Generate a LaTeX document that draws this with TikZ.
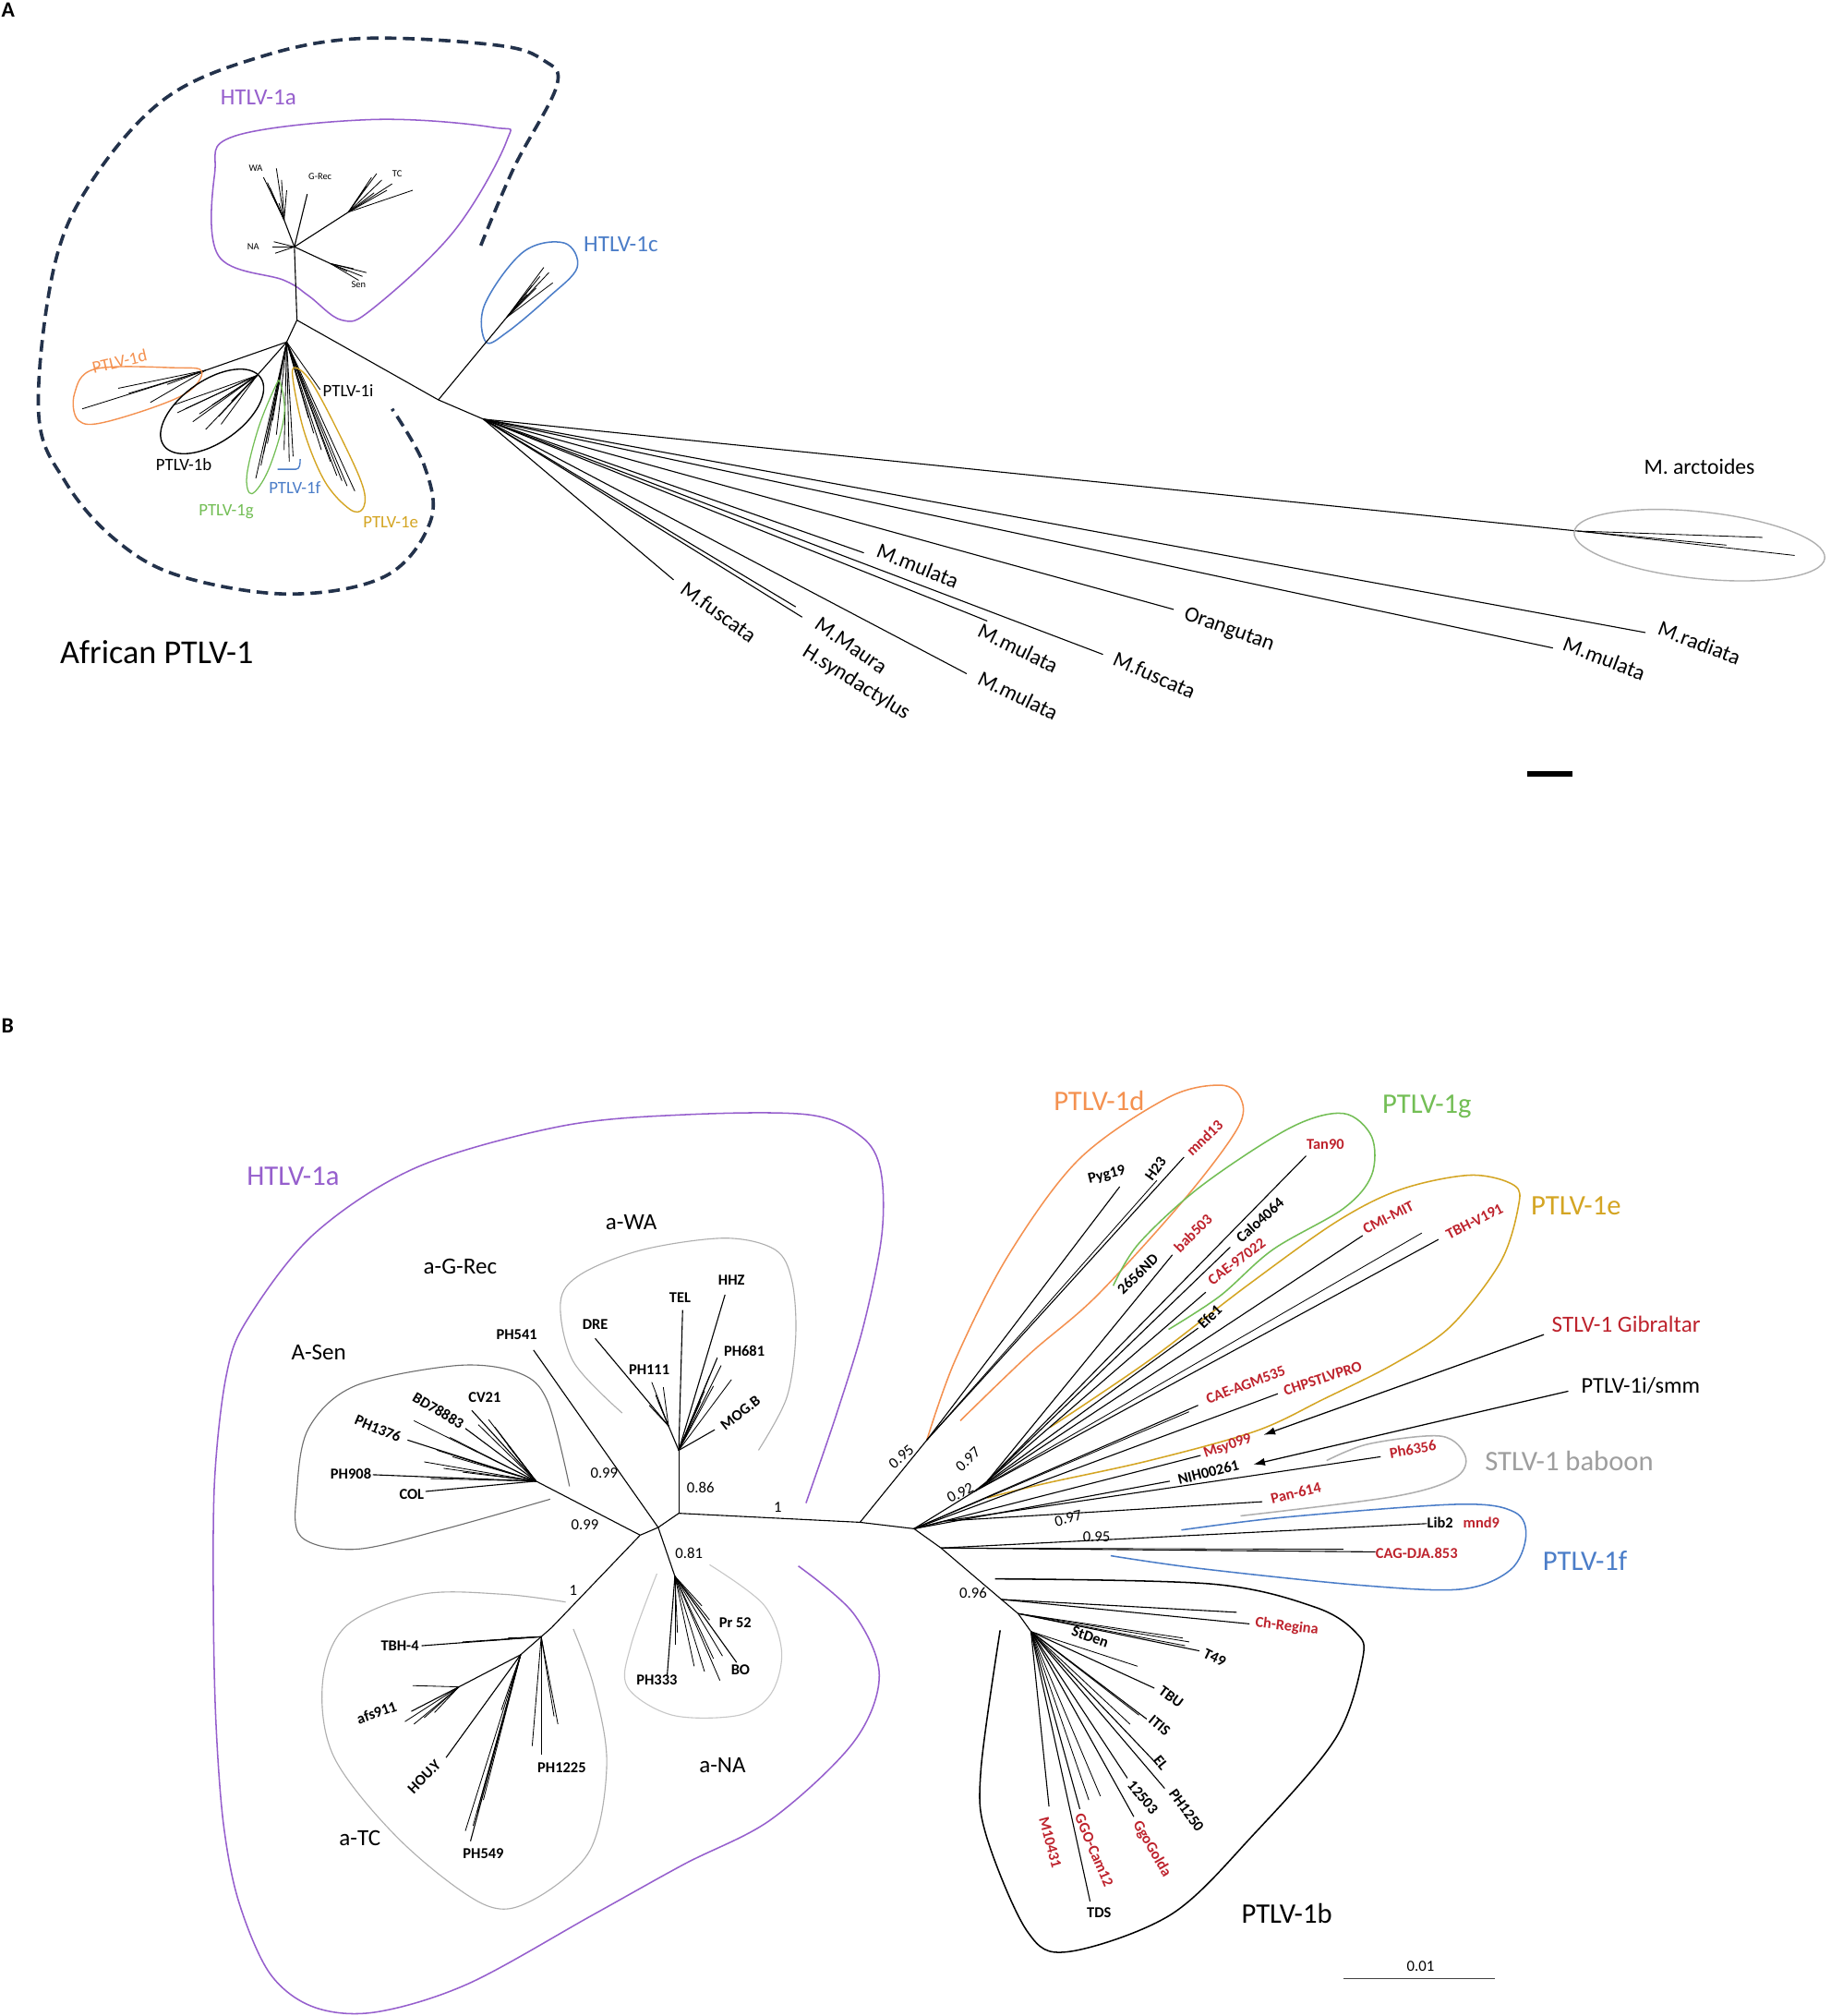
\documentclass[tikz,border=0pt]{standalone}
\usepackage{fontspec}
\setmainfont{Carlito}
\usetikzlibrary{arrows.meta}
\definecolor{cpurp}{RGB}{150,95,205}
\definecolor{corange}{RGB}{244,145,80}
\definecolor{cgreen}{RGB}{115,190,85}
\definecolor{cgold}{RGB}{212,165,35}
\definecolor{cblue}{RGB}{75,125,200}
\definecolor{cred}{RGB}{190,35,45}
\definecolor{cnavy}{RGB}{35,50,75}
\definecolor{cgray}{RGB}{175,175,175}
\definecolor{cdgray}{RGB}{110,110,110}
\tikzset{
  x=1pt, y=-1pt,
  br/.style={line width=0.8pt, black},
  brs/.style={line width=0.6pt, black},
  hull/.style={line width=1.1pt},
  lf/.style={font=\fontsize{11.8}{11.8}\selectfont\bfseries, inner sep=0pt},
  lfr/.style={lf, text=cred},
  sup/.style={font=\fontsize{12}{12}\selectfont, inner sep=0pt},
  sub/.style={font=\fontsize{18}{18}\selectfont, inner sep=0pt},
  clade/.style={font=\fontsize{22}{22}\selectfont, inner sep=0pt},
  tiny/.style={font=\fontsize{7.5}{7.5}\selectfont, inner sep=0pt},
  small/.style={font=\fontsize{13.5}{13.5}\selectfont, inner sep=0pt},
  mac/.style={font=\fontsize{17}{17}\selectfont, inner sep=0pt},
  arr/.style={line width=0.9pt, -{Latex[length=9pt,width=6pt]}}
}
\begin{document}
\begin{tikzpicture}
\useasboundingbox (0,0) rectangle (1424,1568);
\fill[white] (0,0) rectangle (1424,1568);

% ================= PANEL A =================
\node[font=\fontsize{17}{17}\selectfont\bfseries, anchor=north west, inner sep=0pt] (pA) at (1,2) {A};

% dashed African PTLV-1 envelope
\draw[cnavy, line width=2.6pt, dash pattern=on 9pt off 5pt]
  plot[smooth, tension=0.6] coordinates {(374,191) (400,130) (433,67) (423,47) (385,35) (279,30) (200,45) (128,77) (72,140) (42,208) (30,321) (51,375) (90,420) (140,448) (225,462) (300,448) (335,405) (330,362) (305,318)};

% purple HTLV-1a hull
\draw[cpurp, hull] plot[smooth cycle, tension=0.6] coordinates {(394,110) (383,99) (289,93) (182,106) (167,135) (170,199) (221,218) (240,230) (266,249) (290,240) (353,180)};
\node[text=cpurp, font=\fontsize{18}{18}\selectfont, inner sep=0pt] (tA1a) at (201,76) {HTLV-1a};

% HTLV-1c hull
\draw[cblue, hull] plot[smooth cycle, tension=0.6] coordinates {(378,266) (377,237) (407,196) (439,189) (449,208) (427,231) (395,258)};
\node[text=cblue, font=\fontsize{18}{18}\selectfont, inner sep=0pt] (tA1c) at (483,190) {HTLV-1c};

% backbone
\coordinate (A1) at (229,192);
\coordinate (A2) at (231,249);
\coordinate (A3) at (223,266);
\coordinate (A4) at (341,311);
\coordinate (A5) at (376,326);
\coordinate (C1) at (394,247);
\draw[br] (A1) -- (A2) -- (A3);
\draw[br] (A2) -- (A4) -- (A5);
\draw[br] (A4) -- (C1);
\foreach \x/\y in {423/208, 430/220, 417/224, 410/229, 420/215, 427/212, 414/222} \draw[brs] (C1) -- (\x,\y);

% HTLV-1a subtree
\coordinate (WA0) at (221,171);
\draw[br] (A1) -- (WA0);
\foreach \x/\y in {205/138, 215/131, 223/148, 210/146, 217/158, 212/152, 208/142, 219/140} \draw[brs] (WA0) -- (\x,\y);
\coordinate (GR0) at (239,151);
\draw[br] (A1) -- (GR0);
\coordinate (TC0) at (271,165);
\draw[br] (A1) -- (TC0);
\foreach \x/\y in {293/135, 321/148, 289/138, 301/148, 285/145, 297/140, 305/143, 291/150} \draw[brs] (TC0) -- (\x,\y);
\foreach \x/\y in {212/192, 214/197, 213/188} \draw[brs] (A1) -- (\x,\y);
\coordinate (SE0) at (257,205);
\draw[br] (A1) -- (SE0);
\foreach \x/\y in {285/212, 279/218, 270/211, 282/215, 275/209} \draw[brs] (SE0) -- (\x,\y);
\node[tiny] (tWA) at (199,131) {WA};
\node[tiny] (tGR) at (249,137) {G-Rec};
\node[tiny] (tTC) at (309,135) {TC};
\node[tiny] (tNA) at (197,192) {NA};
\node[tiny] (tSen) at (279,221) {Sen};

% PTLV fan
\coordinate (D0A) at (160,288);
\draw[br] (A3) -- (D0A);
\foreach \x/\y in {64/318, 92/302, 117/313, 100/306, 130/299} \draw[brs] (D0A) -- (\x,\y);
\coordinate (B0A) at (200,292);
\draw[br] (A3) -- (B0A);
\foreach \x/\y in {138/321, 160/334, 170/324, 144/318, 150/328, 165/315, 135/315, 155/322, 172/330, 180/312} \draw[brs] (B0A) -- (\x,\y);
\foreach \x/\y in {199/372, 205/353, 212/327, 203/362, 208/345, 215/338} \draw[brs] (A3) -- (\x,\y);
\foreach \x/\y in {225/359, 228/355, 221/350} \draw[brs] (A3) -- (\x,\y);
\coordinate (IA) at (249,303);
\draw[brs] (A3) -- (IA);
\foreach \x/\y in {276/382, 270/378, 257/359, 244/337, 262/370, 266/374, 250/350, 240/325} \draw[brs] (A3) -- (\x,\y);

% clade hulls in A
\draw[corange, line width=1pt] plot[smooth cycle, tension=0.6] coordinates {(157,289) (135,286) (74,287) (58,306) (61,327) (83,328) (141,308)};
\draw[black, line width=1pt, rotate around={35:(165,320)}] (165,320) ellipse [x radius=46, y radius=24];
\draw[cgreen, line width=0.9pt] plot[smooth cycle, tension=0.6] coordinates {(218,298) (221,324) (209,365) (196,384) (192,370) (201,333) (214,301)};
\draw[cblue, line width=1pt] (216,365) -- (230,365) to[out=0, in=-90] (233.5,357);
\draw[cgold, line width=1pt] plot[smooth cycle, tension=0.6] coordinates {(230,286) (244,300) (270,350) (283,381) (282,396) (272,396) (253,375) (237,337) (228,296)};

\node[small, text=corange, rotate=13] (tAd) at (93,281) {PTLV-1d};
\node[small] (tAb) at (143,361) {PTLV-1b};
\node[small, text=cgreen] (tAg) at (176,398) {PTLV-1g};
\node[small, text=cblue, anchor=west] (tAf) at (209,379) {PTLV-1f};
\node[small, text=cgold] (tAe) at (304,406) {PTLV-1e};
\node[small, anchor=west] (tAi) at (251,304) {PTLV-1i};

% outgroup
\coordinate (ARC0) at (1227,413);
\draw[br] (A5) -- (ARC0);
\foreach \x/\y in {1371/418, 1396/432, 1343/424} \draw[brs] (ARC0) -- (\x,\y);
\draw[cgray, line width=1pt, rotate around={-6:(1322,424)}] (1322,424) ellipse [x radius=98, y radius=26];
\node[mac] (tArc) at (1322,363) {M. arctoides};

\coordinate (Lf1) at (524,451);  \draw[br] (A5) -- (Lf1);
\coordinate (Lf2) at (624,480);  \draw[br] (A5) -- (Lf2);
\coordinate (Lf3) at (619,472);  \draw[br] (A5) -- (Lf3);
\coordinate (Lf4) at (672,430);  \draw[br] (A5) -- (Lf4);
\coordinate (Lf5) at (768,483);  \draw[br] (A5) -- (Lf5);
\coordinate (Lf6) at (752,524);  \draw[br] (A5) -- (Lf6);
\coordinate (Lf7) at (858,509);  \draw[br] (A5) -- (Lf7);
\coordinate (Lf8) at (913,474);  \draw[br] (A5) -- (Lf8);
\coordinate (Lf9) at (1208,504); \draw[br] (A5) -- (Lf9);
\coordinate (Lf10) at (1280,492); \draw[br] (A5) -- (Lf10);

\node[mac, rotate=-36] (tM1) at (559,476) {M.fuscata};
\node[mac, rotate=-35] (tM2) at (662,502) {M.Maura};
\node[mac, rotate=-32] (tM3) at (666,531) {H.syndactylus};
\node[mac, rotate=-22] (tM4) at (714,440) {M.mulata};
\node[mac, rotate=-26] (tM5) at (792,504) {M.mulata};
\node[mac, rotate=-26] (tM6) at (792,541) {M.mulata};
\node[mac, rotate=-24] (tM7) at (898,525) {M.fuscata};
\node[mac, rotate=-20] (tM8) at (956,490) {Orangutan};
\node[mac, rotate=-21] (tM9) at (1248,512) {M.mulata};
\node[mac, rotate=-21] (tM10) at (1322,500) {M.radiata};

\fill[black] (1188,599.5) rectangle (1223,604) ;
\node[font=\fontsize{26}{26}\selectfont, inner sep=0pt] (tAfr) at (122,507) {African PTLV-1};

% ================= PANEL B =================
\node[font=\fontsize{17}{17}\selectfont\bfseries, anchor=north west, inner sep=0pt] (pB) at (1,792) {B};

% purple HTLV-1a hull
\draw[cpurp, hull] plot[smooth, tension=0.55] coordinates {(627,1169) (651,1099) (672,1030) (686,960) (685,910) (670,884) (629,867) (532,867) (436,876) (324,908) (244,960) (192,1027) (176,1070) (167,1150) (166,1250) (168,1340) (174,1420) (186,1480) (210,1535) (244,1561) (292,1565) (364,1543) (460,1490) (532,1450) (600,1415) (664,1355) (684,1303) (664,1255) (621,1218)};
\node[clade, text=cpurp] (tB1a) at (228,915) {HTLV-1a};

% sub-clade hulls
\draw[cdgray, line width=0.8pt] plot[smooth, tension=0.55] coordinates {(443,1156) (426,1090) (404,1068) (356,1062) (276,1078) (240,1111) (231,1159) (234,1195) (276,1205) (343,1190) (428,1166)};
\draw[cgray, line width=0.8pt] plot[smooth, tension=0.55] coordinates {(484,1099) (446,1059) (436,1013) (452,991) (500,972) (564,963) (603,972) (616,996) (619,1039) (612,1087) (590,1128)};
\draw[cgray!70, line width=0.8pt] plot[smooth, tension=0.55] coordinates {(511,1224) (491,1279) (488,1312) (523,1334) (575,1334) (600,1317) (608,1284) (594,1248) (552,1217)};
\draw[cgray, line width=0.8pt] plot[smooth, tension=0.55] coordinates {(440,1246) (392,1240) (328,1240) (270,1264) (251,1308) (260,1367) (312,1432) (376,1481) (414,1478) (459,1439) (472,1372) (462,1312) (446,1267)};

\node[sub] (tWAb) at (491,951) {a-WA};
\node[sub] (tGRb) at (358,985) {a-G-Rec};
\node[sub] (tSenb) at (248,1052) {A-Sen};
\node[sub] (tTCb) at (280,1430) {a-TC};
\node[sub] (tNAb) at (562,1373) {a-NA};

% backbone
\coordinate (N1) at (528,1177);
\coordinate (N2) at (512,1188);
\coordinate (N3) at (498,1194);
\coordinate (P0) at (669,1184);
\coordinate (P1) at (711,1189);
\draw[br] (N3) -- (N2) -- (N1) -- (P0) -- (P1);
\node[sup] (s1) at (605,1172) {1};

% WA
\coordinate (W0) at (528,1128);
\draw[br] (N1) -- (W0);
\node[sup] (s086) at (545,1157) {0.86};
\coordinate (Wtel) at (531,1019); \draw[br] (W0) -- (Wtel);
\coordinate (Whhz) at (564,1007); \draw[br] (W0) -- (Whhz);
\coordinate (Wph681) at (558,1056); \draw[br] (W0) -- (Wph681);
\coordinate (Wmog) at (556,1112); \draw[br] (W0) -- (Wmog);
\foreach \x/\y in {569/1073, 548/1082, 552/1070, 545/1090, 540/1100, 561/1062, 555/1078} \draw[brs] (W0) -- (\x,\y);
\coordinate (W1) at (520,1109);
\draw[br] (W0) -- (W1);
\coordinate (Wdre) at (463,1041); \draw[br] (W1) -- (Wdre);
\foreach \x/\y in {507/1075, 516/1079, 512/1090, 510/1085, 505/1093} \draw[brs] (W1) -- (\x,\y);
\node[lf] (tTEL) at (529,1009) {TEL};
\node[lf] (tHHZ) at (569,996) {HHZ};
\node[lf] (tPH681) at (579,1051) {PH681};
\node[lf, rotate=38] (tMOG) at (576,1099) {MOG.B};
\node[lf] (tDRE) at (463,1030) {DRE};
\node[lf] (tPH111) at (505,1065) {PH111};

% PH541
\coordinate (Xph541) at (415,1050);
\draw[br] (N2) -- (Xph541);
\node[lf] (tPH541) at (402,1038) {PH541};
\node[sup] (s099a) at (470,1146) {0.99};

% Sen
\coordinate (S0) at (417,1152);
\draw[br] (N3) -- (S0);
\node[sup] (s099b) at (455,1186) {0.99};
\coordinate (Sph908) at (290,1147); \draw[br] (S0) -- (Sph908);
\coordinate (Scol) at (331,1160); \draw[br] (S0) -- (Scol);
\coordinate (Sph1376) at (317,1120); \draw[br] (S0) -- (Sph1376);
\coordinate (Sbd) at (362,1111); \draw[br] (S0) -- (Sbd);
\coordinate (Scv) at (367,1097); \draw[br] (S0) -- (Scv);
\foreach \x/\y in {322/1105, 330/1137, 340/1128, 350/1118, 395/1124, 385/1110, 380/1104, 345/1142, 335/1150, 360/1145, 372/1108, 390/1117, 352/1133} \draw[brs] (S0) -- (\x,\y);
\node[lf, anchor=east] (tPH908) at (289,1146) {PH908};
\node[lf, anchor=east] (tCOL) at (330,1162) {COL};
\node[lf, rotate=-23] (tPH1376) at (294,1111) {PH1376};
\node[lf, rotate=-31] (tBD) at (341,1097) {BD78883};
\node[lf] (tCV21) at (377,1087) {CV21};

% TC
\coordinate (T0) at (429,1266);
\draw[br] (N3) -- (T0);
\node[sup] (s1b) at (446,1237) {1};
\coordinate (T1) at (421,1273);
\draw[br] (T0) -- (T1);
\coordinate (Ttbh) at (328,1280); \draw[br] (T1) -- (Ttbh);
\foreach \x/\y in {360/1277, 380/1276, 395/1274} \draw[brs] (T1) -- (\x,\y);
\coordinate (T2) at (405,1287);
\draw[br] (T1) -- (T2);
\coordinate (T3) at (357,1312);
\draw[br] (T2) -- (T3);
\coordinate (Tafs) at (320,1331); \draw[br] (T3) -- (Tafs);
\foreach \x/\y in {321/1311, 315/1339, 322/1341, 330/1336, 338/1332} \draw[brs] (T3) -- (\x,\y);
\coordinate (Thou) at (347,1367); \draw[br] (T2) -- (Thou);
\coordinate (Tph549) at (366,1432); \draw[br] (T2) -- (Tph549);
\foreach \x/\y in {368/1420, 371/1410, 362/1424, 376/1400, 390/1330, 398/1310} \draw[brs] (T2) -- (\x,\y);
\coordinate (Tph1225) at (421,1365); \draw[br] (T1) -- (Tph1225);
\foreach \x/\y in {434/1341, 414/1358, 431/1335} \draw[brs] (T1) -- (\x,\y);
\node[lf, anchor=east] (tTBH4) at (326,1280) {TBH-4};
\node[lf, rotate=19] (tafs) at (293,1332) {afs911};
\node[lf, rotate=46] (tHOU) at (330,1382) {HOU.Y};
\node[lf] (tPH549) at (376,1442) {PH549};
\node[lf] (tPH1225) at (437,1375) {PH1225};

% NA
\coordinate (NA0) at (525,1226);
\draw[br] (N2) -- (NA0);
\node[sup] (s081) at (536,1208) {0.81};
\coordinate (Nph333) at (519,1303); \draw[br] (NA0) -- (Nph333);
\coordinate (Nbo) at (573,1293); \draw[br] (NA0) -- (Nbo);
\foreach \x/\y in {525/1279, 546/1249, 560/1307, 562/1288, 555/1290, 548/1300, 527/1270, 552/1260, 540/1296} \draw[brs] (NA0) -- (\x,\y);
\node[lf] (tPr52) at (572,1262) {Pr 52};
\node[lf] (tBO) at (576,1299) {BO};
\node[lf] (tPH333) at (511,1307) {PH333};

% ---- PTLV side ----
% hulls
\draw[corange, hull] plot[smooth, tension=0.55] coordinates {(721,1120) (743,1058) (784,977) (839,902) (908,854) (949,844) (965,854) (963,877) (922,932) (853,1008) (801,1053) (747,1105)};
\draw[cgreen, hull] plot[smooth, tension=0.55] coordinates {(866,1000) (886,967) (935,922) (1004,877) (1045,866) (1067,884) (1067,914) (1045,940) (990,972) (949,1008) (909,1034)};
\draw[cgold, hull] plot[smooth, tension=0.55] coordinates {(817,1110) (894,1058) (970,1000) (1040,950) (1090,925) (1144,914) (1178,922) (1181,939) (1167,982) (1128,1032) (1084,1061) (1030,1088) (977,1113) (894,1136) (812,1154) (768,1165)};
\draw[cgray, hull] plot[smooth, tension=0.55] coordinates {(1032,1136) (1065,1123) (1121,1117) (1140,1133) (1131,1150) (1084,1164) (965,1179)};
\draw[cblue, hull] plot[smooth, tension=0.55] coordinates {(919,1190) (1000,1180) (1134,1170) (1178,1176) (1187,1195) (1175,1221) (1137,1236) (1059,1233) (934,1220) (864,1210)};
\draw[black, hull] plot[smooth, tension=0.55] coordinates {(774,1228) (943,1232) (1023,1250) (1055,1270) (1060,1290) (1039,1352) (975,1427) (911,1489) (831,1518) (799,1502) (767,1427) (763,1377) (778,1268)};

\node[clade, text=corange] (tBd) at (855,856) {PTLV-1d};
\node[clade, text=cgreen] (tBg) at (1110,861) {PTLV-1g};
\node[clade, text=cgold] (tBe) at (1226,938) {PTLV-1e};
\node[font=\fontsize{18}{18}\selectfont, inner sep=0pt, text=cred, anchor=west] (tGib) at (1207,1030) {STLV-1 Gibraltar};
\node[font=\fontsize{17.5}{17.5}\selectfont, inner sep=0pt, anchor=west] (tSmm) at (1230,1078) {PTLV-1i/smm};
\node[clade, text=cgray!90!black, anchor=west] (tBab) at (1155,1136) {STLV-1 baboon};
\node[clade, text=cblue] (tBf) at (1233,1214) {PTLV-1f};
\node[clade] (tBb) at (1001,1488) {PTLV-1b};

% d clade
\coordinate (D0) at (721,1120);
\draw[br] (P0) -- (D0);
\node[sup, rotate=40] (s095d) at (701,1133) {0.95};
\coordinate (Dpyg) at (871,923); \draw[br] (D0) -- (Dpyg);
\coordinate (Dh23) at (921,900); \draw[br] (D0) -- (Dh23);
\draw[brs] (D0) -- (900,918);
\node[lf, rotate=14] (tPyg) at (861,914) {Pyg19};
\node[lf, rotate=54] (tH23) at (899,909) {H23};
\node[lfr, rotate=44] (tmnd13) at (937,885) {mnd13};

% g / e clades
\coordinate (R1) at (758,1160);
\coordinate (R2) at (768,1152);
\draw[br] (P1) -- (R1) -- (R2);
\node[sup, rotate=27] (s092) at (747,1161) {0.92};
\node[sup, rotate=43] (s097a) at (753,1135) {0.97};
\coordinate (G1) at (912,976); \draw[br] (R2) -- (G1);
\coordinate (G2) at (957,970); \draw[br] (R2) -- (G2);
\coordinate (G3) at (1016,899); \draw[br] (R2) -- (G3);
\coordinate (G4) at (938,1005); \draw[br] (R2) -- (G4);
\coordinate (G5) at (932,1033); \draw[br] (R1) -- (G5);
\node[lf, rotate=44] (t2656) at (885,991) {2656ND};
\node[lfr, rotate=45] (tbab) at (928,959) {bab503};
\node[lf, rotate=42] (tCalo) at (980,949) {Calo4064};
\node[lfr] (tTan) at (1031,890) {Tan90};
\node[lfr, rotate=37] (tCAE97) at (962,981) {CAE-97022};
\node[lf, rotate=44] (tEfe) at (941,1024) {Efe1};
\coordinate (E1) at (1060,961); \draw[br] (R1) -- (E1);
\coordinate (E2) at (1119,964); \draw[br] (R1) -- (E2);
\draw[brs] (R1) -- (1106,959);
\node[lfr, rotate=27] (tCMI) at (1080,947) {CMI-MIT};
\node[lfr, rotate=27] (tTBHV) at (1147,950) {TBH-V191};

% other PTLV
\coordinate (Oagm) at (932,1093); \draw[br] (P1) -- (Oagm);
\draw[brs] (P1) -- (925,1098);
\coordinate (Ochp) at (994,1084); \draw[br] (P1) -- (Ochp);
\coordinate (Omsy) at (934,1132); \draw[br] (P1) -- (Omsy);
\coordinate (Onih) at (910,1152); \draw[br] (P1) -- (Onih);
\node[lfr, rotate=21] (tAGM) at (969,1077) {CAE-AGM535};
\node[lfr, rotate=18] (tCHP) at (1029,1072) {CHPSTLVPRO};
\node[lfr, rotate=19] (tMsy) at (955,1125) {Msy099};
\node[lf, rotate=14] (tNIH) at (940,1145) {NIH00261};

\coordinate (Q0) at (735,1183);
\draw[br] (P1) -- (Q0);
\coordinate (Qph) at (1074,1133); \draw[br] (Q0) -- (Qph);
\coordinate (Qpan) at (982,1168); \draw[br] (Q0) -- (Qpan);
\node[lfr, rotate=10] (tPh6356) at (1099,1127) {Ph6356};
\node[lfr, rotate=14] (tPan) at (1008,1161) {Pan-614};
\node[sup, rotate=14] (s097b) at (831,1181) {0.97};

\coordinate (P2) at (732,1204);
\draw[br] (P1) -- (P2);
\coordinate (Flib) at (1110,1185); \draw[br] (P2) -- (Flib);
\coordinate (Fcag) at (1070,1207); \draw[br] (P2) -- (Fcag);
\draw[brs] (P2) -- (1045,1205);
\node[lf, anchor=west] (tLib) at (1110,1184) {Lib2};
\node[lfr, anchor=west] (tmnd9) at (1138,1184) {mnd9};
\node[lfr, anchor=west] (tCAG) at (1070,1208) {CAG-DJA.853};
\node[sup] (s095f) at (853,1195) {0.95};

% arrows
\coordinate (AGib) at (1201,1038);
\coordinate (ASmm) at (1220,1082);
\coordinate (AMsy) at (983,1116);
\coordinate (ANih) at (975,1139);
\draw[arr] (AGib) -- (AMsy);
\draw[arr] (ASmm) -- (ANih);

% b clade
\coordinate (B0) at (779,1244);
\coordinate (B1) at (792,1255);
\coordinate (B2) at (802,1269);
\draw[br] (P2) -- (B0) -- (B1) -- (B2);
\node[sup] (s096) at (757,1239) {0.96};
\draw[br] (B0) -- (962,1254);
\coordinate (Bch) at (972,1263); \draw[br] (B0) -- (Bch);
\coordinate (Bt49) at (933,1284); \draw[br] (B1) -- (Bt49);
\foreach \x/\y in {920/1274, 925/1277, 922/1280} \draw[brs] (B1) -- (\x,\y);
\draw[brs] (B2) -- (885,1296);
\coordinate (Btbu) at (898,1313); \draw[br] (B2) -- (Btbu);
\coordinate (Bitis) at (892,1337); \draw[br] (B2) -- (Bitis);
\draw[brs] (B2) -- (879,1341);
\draw[brs] (B2) -- (886,1334);
\coordinate (Bel) at (898,1370); \draw[br] (B2) -- (Bel);
\coordinate (Bph) at (906,1391); \draw[br] (B2) -- (Bph);
\coordinate (B125) at (877,1383); \draw[br] (B2) -- (B125);
\coordinate (Bggo) at (882,1413); \draw[br] (B2) -- (Bggo);
\draw[brs] (B2) -- (856,1397);
\draw[brs] (B2) -- (847,1400);
\coordinate (Bcam) at (840,1407); \draw[br] (B2) -- (Bcam);
\coordinate (Btds) at (848,1479); \draw[br] (B2) -- (Btds);
\coordinate (Bm10) at (816,1405); \draw[br] (B2) -- (Bm10);
\node[lfr, rotate=-7] (tChR) at (1001,1265) {Ch-Regina};
\node[lf, rotate=-19] (tStDen) at (848,1273) {StDen};
\node[lf, rotate=-26] (tT49) at (945,1289) {T49};
\node[lf, rotate=-36] (tTBU) at (911,1320) {TBU};
\node[lf, rotate=-40] (tITIS) at (902,1342) {ITIS};
\node[lf, rotate=-51] (tEL) at (903,1371) {EL};
\node[lf, rotate=-54] (tPH1250) at (923,1408) {PH1250};
\node[lf, rotate=-50] (t12503) at (889,1398) {12503};
\node[lfr, rotate=-60] (tGgo) at (896,1438) {GgoGolda};
\node[lfr, rotate=-67] (tCam) at (851,1439) {GGO-Cam12};
\node[lf] (tTDS) at (855,1488) {TDS};
\node[lfr, rotate=-75] (tM104) at (817,1433) {M10431};

% scale bar
\coordinate (SB1) at (1045,1539);
\coordinate (SB2) at (1163,1539);
\draw[line width=1pt, black!75] (SB1) -- (SB2);
\node[sup] (tScale) at (1105,1529) {0.01};

\end{tikzpicture}
\end{document}
